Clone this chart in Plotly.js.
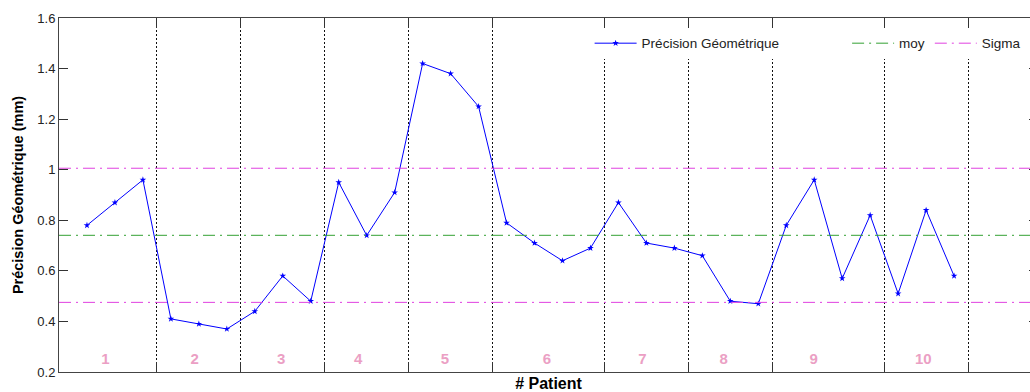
<!DOCTYPE html>
<html>
<head>
<meta charset="utf-8">
<script src="https://cdn.plot.ly/plotly-3.0.1.min.js"></script>
<style>
html,body{margin:0;padding:0;overflow:hidden;background:#fff;}
#chart{width:1040px;height:392px;}
</style>
</head>
<body>
<div id="chart"></div>
<script>
// ---- data ----
const precision = [0.78, 0.87, 0.96, 0.41, 0.39, 0.37, 0.44, 0.58, 0.48,
                   0.95, 0.74, 0.91, 1.42, 1.38, 1.25, 0.79, 0.71, 0.64, 0.69,
                   0.87, 0.71, 0.69, 0.66, 0.48, 0.47, 0.78, 0.96, 0.57, 0.82,
                   0.51, 0.84, 0.58];
const patientSizes = [3, 3, 3, 3, 3, 4, 3, 3, 4, 3];
const patientLabels = ['1', '2', '3', '4', '5', '6', '7', '8', '9', '10'];
const labelX = [1.66, 4.85, 7.94, 10.7, 13.8, 17.44, 20.86, 23.76, 26.98, 30.9];
const labelY = [0.245, 0.245, 0.245, 0.245, 0.245, 0.245, 0.245, 0.245, 0.245, 0.245];
const yTicks = [0.2, 0.4, 0.6, 0.8, 1, 1.2, 1.4, 1.6];
const xRange = [0, 35];

// ---- derived ----
const xIdx = precision.map((_, i) => i + 1);
const n = precision.length;
const moy = precision.reduce((a, b) => a + b, 0) / n;
const sd = Math.sqrt(precision.reduce((a, b) => a + (b - moy) * (b - moy), 0) / (n - 1));
const bounds = [];
let acc = 0;
patientSizes.forEach(s => { acc += s; bounds.push(acc + 0.5); });

const FONT = 'Arial, "Liberation Sans", Helvetica, sans-serif';

const traces = [
  {
    x: xIdx, y: precision, type: 'scatter', mode: 'lines+markers',
    name: 'Précision Géométrique', legend: 'legend',
    line: {color: '#0000ff', width: 1},
    marker: {color: '#0000ff', size: 5, symbol: 'star'}
  },
  {
    x: xRange, y: [moy, moy], type: 'scatter', mode: 'lines',
    name: 'moy', legend: 'legend2',
    line: {color: '#33a033', width: 1, dash: '12px,5px,2px,5px'}
  },
  {
    x: [xRange[0], xRange[1], null, xRange[0], xRange[1]],
    y: [moy + sd, moy + sd, null, moy - sd, moy - sd],
    type: 'scatter', mode: 'lines', name: 'Sigma', legend: 'legend3',
    line: {color: '#e040e0', width: 1, dash: '12px,5px,2px,5px'}
  },
  {
    x: labelX, y: labelY, type: 'scatter', mode: 'text',
    text: patientLabels.map(t => '<b>' + t + '</b>'),
    textfont: {family: FONT, size: 15, color: '#eb9fc4'},
    textposition: 'middle center', showlegend: false, hoverinfo: 'skip'
  }
];

const legendBase = {
  orientation: 'h', xanchor: 'left', y: 0.972, yanchor: 'top',
  itemwidth: 42, bgcolor: '#fff', borderwidth: 0,
  font: {family: FONT, size: 13.5, color: '#222'}
};

const layout = {
  width: 1040, height: 392,
  margin: {l: 59, r: 2, t: 18, b: 20},
  paper_bgcolor: '#fff', plot_bgcolor: '#fff',
  font: {family: FONT, color: '#222'},
  xaxis: {
    range: xRange, tickvals: bounds, showticklabels: false,
    ticks: 'inside', ticklen: 10, tickcolor: '#333',
    showgrid: true, gridcolor: '#111', griddash: '2px,2px', gridwidth: 1,
    showline: true, linecolor: '#444', linewidth: 1, mirror: 'ticks',
    zeroline: false, automargin: false,
    title: {text: '<b># Patient</b>', font: {family: FONT, size: 16, color: '#000'}, standoff: 7}
  },
  yaxis: {
    range: [0.2, 1.6], tickvals: yTicks,
    ticks: 'inside', ticklen: 9, tickcolor: '#333',
    tickfont: {family: FONT, size: 13, color: '#222'},
    showgrid: false, showline: true, linecolor: '#444', linewidth: 1, mirror: 'ticks',
    zeroline: false, automargin: false,
    title: {text: '<b>Précision Géométrique (mm)</b>', font: {family: FONT, size: 14.5, color: '#000'}, standoff: 10}
  },
  legend: Object.assign({}, legendBase, {x: 0.542}),
  legend2: Object.assign({}, legendBase, {x: 0.805}),
  legend3: Object.assign({}, legendBase, {x: 0.8895}),
  showlegend: true
};

Plotly.newPlot('chart', traces, layout, {staticPlot: true, displayModeBar: false});
</script>
</body>
</html>
